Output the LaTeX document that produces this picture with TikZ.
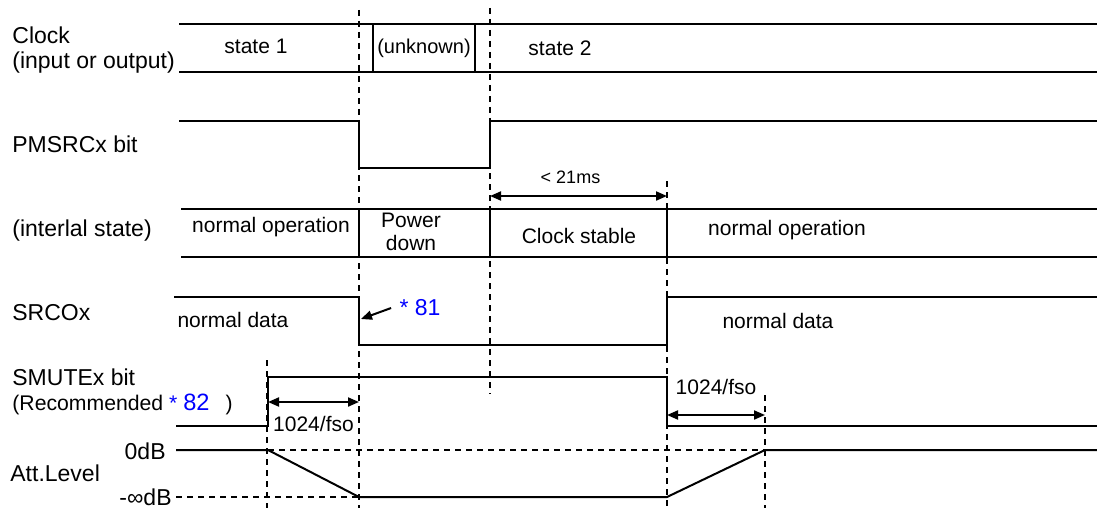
\documentclass[tikz,border=0pt]{standalone}
\usepackage{fontspec}
\setmainfont{Liberation Sans}
\usetikzlibrary{arrows.meta, positioning}
\tikzset{
  td/sig/.style={line width=1pt, line join=miter},
  td/grid/.style={line width=0.85pt, dash pattern=on 3pt off 2.5pt},
  td/dim/.style={{Triangle[length=5.5pt,width=4.5pt]}-{Triangle[length=5.5pt,width=4.5pt]},
    line width=1pt},
  td/ptr/.style={-{Triangle[length=5.5pt,width=4.5pt]}, line width=1pt},
  td/lbl/.style={anchor=west, align=left, inner sep=0pt,
    font=\fontsize{11.5}{12.5}\selectfont},
  td/txt/.style={inner sep=0pt, align=center,
    font=\fontsize{10.5}{11.5}\selectfont},
  td/small/.style={inner sep=0pt, font=\fontsize{9}{10}\selectfont},
  td/note/.style={inner sep=0pt, font=\fontsize{11.5}{12}\selectfont\color{blue}}
}

\begin{document}
\begin{tikzpicture}[x=0.5pt, y=-0.5pt]
  \useasboundingbox (0,0) rectangle (1097,508);

  % timing marks
  \draw[td/grid] (267,360) -- (267,508);
  \draw[td/grid] (359,10) -- (359,508);
  \draw[td/grid] (490,8) -- (490,394);
  \draw[td/grid] (667,181) -- (667,508);
  \draw[td/grid] (765,395) -- (765,508);

  % Clock
  \node[td/lbl] (lClk) at (12,50) {Clock\\(input or output)};
  \draw[td/sig] (179,24) -- (1097,24) (179,72) -- (1097,72)
                (373,24) -- (373,72) (475,24) -- (475,72);
  \node[td/txt] (clkS1) at (256,46) {state 1};
  \node[td/txt, font=\fontsize{10}{11}\selectfont] (clkUnk) at (424,48) {(unknown)};
  \node[td/txt] (clkS2) at (560,48) {state 2};

  % PMSRCx
  \node[td/lbl] (lPm) at (12,144) {PMSRCx bit};
  \draw[td/sig] (179,121) -- (359,121) -- (359,168) -- (490,168) -- (490,121)
                -- (1097,121);

  % internal state
  \coordinate (t21a) at (490,196);
  \coordinate (t21b) at (667,196);
  \draw[td/dim] (t21a) -- node[td/small, above=5.5pt, xshift=-4pt] (l21) {< 21ms} (t21b);
  \node[td/lbl] (lInt) at (12,231) {(interlal state)};
  \draw[td/sig] (181,209) -- (1097,209) (181,257) -- (1097,257)
                (359,209) -- (359,257) (490,209) -- (490,257) (667,209) -- (667,257);
  \node[td/txt] (intN1) at (271,227) {normal operation};
  \node[td/txt] (intPd) at (411,232) {Power\\down};
  \node[td/txt] (intCs) at (579,236) {Clock stable};
  \node[td/txt] (intN2) at (787,230) {normal operation};

  % SRCOx
  \node[td/lbl] (lSrc) at (12,313) {SRCOx};
  \draw[td/sig] (174,297) -- (359,297) -- (359,345) -- (667,345) -- (667,297)
                -- (1097,297);
  \node[td/txt] (srcN1) at (233,320) {normal data};
  \node[td/txt] (srcN2) at (778,321) {normal data};
  \node[td/note] (n81) at (420,308) {* 81};
  \coordinate (e81) at (361,319);
  \draw[td/ptr] ([xshift=-4pt]n81.west) -- (e81);

  % SMUTEx
  \node[td/lbl] (lSm) at (12,392) {SMUTEx bit\\{\fontsize{10.6}{12}\selectfont
    (Recommended \textcolor{blue}{* {\fontsize{11.8}{12}\selectfont 82}}\hspace{8pt})}};
  \draw[td/sig] (176,426) -- (268,426) -- (268,377) -- (667,377) -- (667,426)
                -- (1097,426);
  \coordinate (tmA) at (268,402);
  \coordinate (tmB) at (359,402);
  \draw[td/dim] (tmA) -- node[td/txt, below=6.8pt] (lTm1) {1024/fso} (tmB);
  \coordinate (tmC) at (667,415);
  \coordinate (tmD) at (765,415);
  \draw[td/dim] (tmC) -- node[td/txt, above=9.8pt] (lTm2) {1024/fso} (tmD);

  % Att.Level
  \node[td/lbl] (lAtt) at (10,473) {Att.Level};
  \node[td/lbl, anchor=east] (l0dB) at (166,451) {0dB};
  \node[td/lbl, anchor=east] (lInf) at (172,497) {-∞dB};
  \draw[td/grid] (268,450) -- (765,450);
  \draw[td/grid] (176,497) -- (359,497);
  \draw[td/sig] (176,450) -- (268,450) -- (359,497) -- (667,497) -- (765,450)
                -- (1097,450);
\end{tikzpicture}
\end{document}
